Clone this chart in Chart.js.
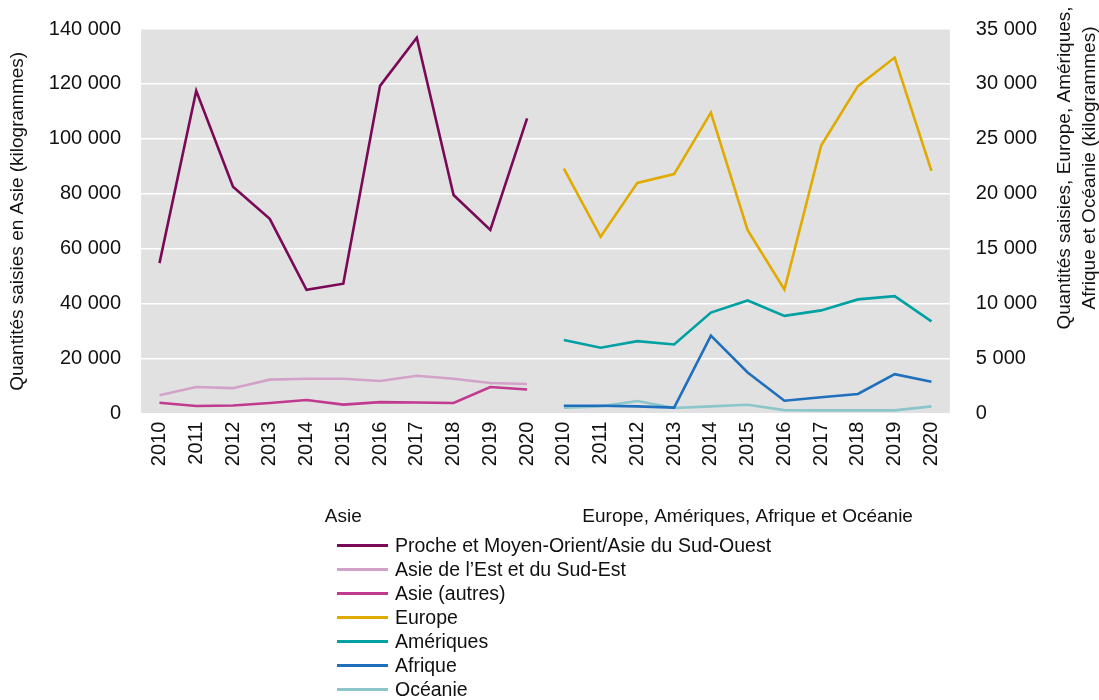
<!DOCTYPE html>
<html>
<head>
<meta charset="utf-8">
<script src="https://cdn.jsdelivr.net/npm/chart.js@4"></script>
<style>
  body { margin: 0; background: #fff; }
  #wrap { position: relative; width: 1099px; height: 700px; }
  #legend { position: absolute; left: 337px; top: 533px; font-family: "Liberation Sans", sans-serif; font-size: 19.5px; color: #111; }
  #legend div { height: 24px; line-height: 24px; display: flex; align-items: center; white-space: nowrap; }
  #legend span.sw { display: inline-block; width: 51px; height: 3px; margin-right: 7px; }
</style>
</head>
<body>
<div id="wrap">
  <canvas id="chart" width="1099" height="700"></canvas>
  <div id="legend"></div>
</div>
<script>
const years = ["2010", "2011", "2012", "2013", "2014", "2015", "2016", "2017", "2018", "2019", "2020"];
const categories = years.concat(years);
const groups = ["Asie", "Europe, Amériques, Afrique et Océanie"];
const pad = new Array(11).fill(null);

// Asie (axe gauche)
const procheOrient = [54800, 117500, 82600, 70900, 45100, 47300, 119300, 136800, 79600, 66900, 107500];
const asieEst = [6700, 9700, 9300, 12400, 12700, 12700, 11900, 13800, 12700, 11200, 10800];
const asieAutres = [4000, 2800, 3000, 3900, 5000, 3300, 4200, 4100, 3900, 9700, 8800];

// autres régions (axe droit)
const europe = [22300, 16100, 21000, 21800, 27400, 16700, 11300, 24400, 29800, 32400, 22100];
const ameriques = [6700, 6000, 6600, 6300, 9200, 10300, 8900, 9400, 10400, 10700, 8400];
const afrique = [730, 730, 670, 550, 7100, 3750, 1180, 1500, 1800, 3600, 2900];
const oceanie = [550, 670, 1150, 520, 670, 820, 330, 300, 300, 300, 670];

const leftTicks = [0, 20000, 40000, 60000, 80000, 100000, 120000, 140000];
const rightTicks = [0, 5000, 10000, 15000, 20000, 25000, 30000, 35000];
const rightTitle = ["Quantités saisies, Europe, Amériques,", "Afrique et Océanie (kilogrammes)"];

const font = "'Liberation Sans', sans-serif";
const fmt = v => String(v).replace(/\B(?=(\d{3})+(?!\d))/g, " ");

const plotBg = {
  id: "plotBg",
  beforeDraw(chart) {
    const a = chart.chartArea, c = chart.ctx;
    c.save();
    c.fillStyle = "#e1e1e1";
    c.fillRect(a.left, a.top, a.right - a.left, a.bottom - a.top);
    c.restore();
  },
  afterDraw(chart) {
    // titre de l'axe droit, lu de bas en haut comme dans l'original
    const c = chart.ctx;
    c.save();
    c.fillStyle = "#111";
    c.font = "19px " + font;
    c.textAlign = "center";
    c.textBaseline = "middle";
    c.translate(1065, 168);
    c.rotate(-Math.PI / 2);
    c.fillText(rightTitle[0], 0, 0);
    c.fillText(rightTitle[1], 0, 25);
    c.restore();
  }
};

// keep the tick padding from pushing the plot top down
const trimPad = s => { s.paddingTop = 12; s.paddingBottom = 12; };

function line(label, data, color, axis) {
  return { label, data, borderColor: color, backgroundColor: color, borderWidth: 2.6,
    pointRadius: 0, tension: 0, yAxisID: axis, spanGaps: false };
}

const chart = new Chart(document.getElementById("chart"), {
  type: "line",
  data: {
    labels: categories,
    datasets: [
      line("Proche et Moyen-Orient/Asie du Sud-Ouest", procheOrient.concat(pad), "#7a0a57", "y"),
      line("Asie de l\u2019Est et du Sud-Est", asieEst.concat(pad), "#d3a2c9", "y"),
      line("Asie (autres)", asieAutres.concat(pad), "#c03a8f", "y"),
      line("Europe", pad.concat(europe), "#e0aa00", "y1"),
      line("Amériques", pad.concat(ameriques), "#00a0a3", "y1"),
      line("Afrique", pad.concat(afrique), "#1f6fbd", "y1"),
      line("Océanie", pad.concat(oceanie), "#8cc6ca", "y1")
    ]
  },
  options: {
    responsive: false,
    animation: false,
    layout: { padding: { left: 4, right: 44, top: 29, bottom: 141 } },
    plugins: { legend: { display: false }, tooltip: { enabled: false } },
    scales: {
      x: {
        offset: true,
        grid: { display: false },
        border: { display: false },
        ticks: { minRotation: 90, maxRotation: 90, autoSkip: false, color: "#111", font: { family: font, size: 20 }, padding: 0 }
      },
      xg: {
        type: "category",
        labels: groups,
        position: "bottom",
        offset: true,
        grid: { display: false },
        border: { display: false },
        ticks: { maxRotation: 0, color: "#111", font: { family: font, size: 19 }, padding: 31 }
      },
      y: {
        position: "left",
        min: 0, max: 140000,
        afterBuildTicks: s => { s.ticks = leftTicks.map(v => ({ value: v })); },
        afterFit: trimPad,
        grid: { color: "#ffffff", lineWidth: 1.5, drawTicks: false },
        border: { display: false },
        ticks: { color: "#111", font: { family: font, size: 20 }, padding: 20, callback: v => fmt(v) },
        title: { display: true, text: "Quantités saisies en Asie (kilogrammes)", color: "#111", font: { family: font, size: 19 }, padding: { top: 2, bottom: 0 } }
      },
      y1: {
        position: "right",
        min: 0, max: 35000,
        afterBuildTicks: s => { s.ticks = rightTicks.map(v => ({ value: v })); },
        afterFit: trimPad,
        grid: { display: false },
        border: { display: false },
        ticks: { color: "#111", font: { family: font, size: 20 }, padding: 18, callback: v => fmt(v) }
      }
    }
  },
  plugins: [plotBg]
});

const legendEl = document.getElementById("legend");
chart.data.datasets.forEach(ds => {
  const row = document.createElement("div");
  const sw = document.createElement("span");
  sw.className = "sw";
  sw.style.background = ds.borderColor;
  row.appendChild(sw);
  row.appendChild(document.createTextNode(ds.label));
  legendEl.appendChild(row);
});
</script>
</body>
</html>
